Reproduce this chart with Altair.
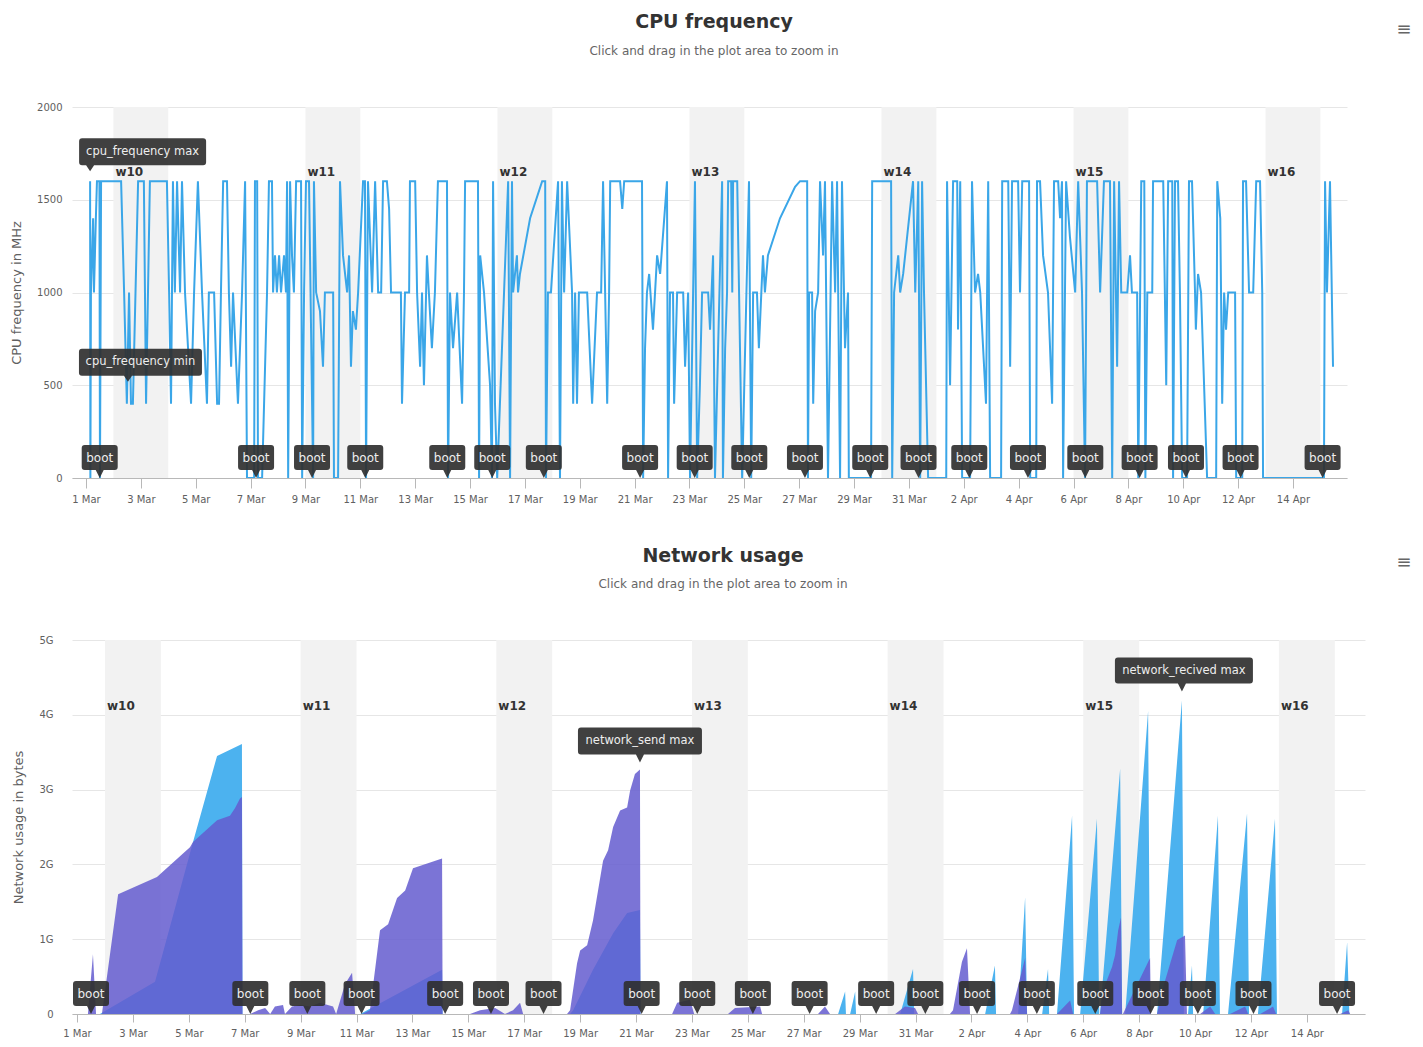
import altair as alt
import pandas as pd
from datetime import datetime, timezone

# ---------------- data ----------------
T0 = datetime(2013, 3, 1, tzinfo=timezone.utc).timestamp() * 1000.0
DAY = 86400000.0

# (days since 1 Mar 00:00, MHz)
cpu_points = [
    (0.15, 1600), (0.16, 0), (0.18, 1000), (0.26, 1400), (0.29, 1000), (0.36, 1400), (0.40, 1600), (0.49, 1600),
    (0.51, 0), (0.55, 1600), (1.28, 1600), (1.39, 1000), (1.49, 400), (1.57, 1000), (1.64, 400), (1.71, 400),
    (1.90, 1600), (2.11, 1600), (2.19, 400), (2.33, 1600), (2.95, 1600), (3.03, 1000), (3.10, 400), (3.17, 1600),
    (3.24, 1000), (3.32, 1600), (3.43, 1000), (3.50, 1600), (3.61, 1000), (3.83, 400), (3.94, 1000), (4.08, 1600),
    (4.23, 1000), (4.41, 400), (4.48, 1000), (4.67, 1000), (4.78, 400), (4.85, 400), (4.92, 1000), (5.00, 1600),
    (5.14, 1600), (5.21, 1000), (5.29, 600), (5.36, 1000), (5.54, 400), (5.69, 1000), (5.80, 1600), (5.87, 0),
    (6.13, 0), (6.16, 1600), (6.24, 1600), (6.27, 0), (6.42, 0), (6.60, 1000), (6.67, 1600), (6.78, 1600),
    (6.82, 1000), (6.89, 1200), (6.96, 1000), (7.04, 1200), (7.11, 1000), (7.22, 1200), (7.29, 1000), (7.33, 1600),
    (7.37, 0), (7.44, 1600), (7.51, 1200), (7.58, 1000), (7.66, 1600), (7.84, 1600), (7.88, 0), (7.95, 1000),
    (8.02, 1600), (8.13, 1600), (8.28, 0), (8.31, 1600), (8.39, 1000), (8.53, 900), (8.64, 600), (8.71, 1000),
    (9.01, 1000), (9.04, 0), (9.19, 0), (9.26, 1600), (9.37, 1200), (9.52, 1000), (9.59, 1200), (9.66, 600),
    (9.73, 900), (9.84, 800), (9.92, 1000), (10.10, 1600), (10.17, 1600), (10.21, 0), (10.28, 1600), (10.43, 1000),
    (10.54, 1600), (10.65, 1000), (10.76, 1000), (10.83, 1600), (10.97, 1600), (11.05, 1450), (11.12, 1000), (11.48, 1000),
    (11.52, 400), (11.63, 1000), (11.78, 1000), (11.81, 1600), (12.00, 1600), (12.07, 1000), (12.18, 600), (12.25, 1000),
    (12.32, 500), (12.43, 1200), (12.50, 1000), (12.61, 700), (12.72, 1000), (12.83, 1600), (13.16, 1600), (13.20, 0),
    (13.27, 1000), (13.38, 700), (13.53, 1000), (13.71, 400), (13.78, 1000), (13.82, 1600), (14.29, 1600), (14.33, 0),
    (14.37, 1200), (14.51, 1000), (14.73, 500), (14.80, 0), (14.84, 1600), (14.91, 400), (14.99, 0), (15.39, 1600),
    (15.46, 0), (15.53, 1600), (15.57, 1000), (15.71, 1200), (15.75, 1000), (15.82, 1100), (16.19, 1400), (16.63, 1600),
    (16.74, 1600), (16.77, 0), (16.84, 1000), (16.95, 1000), (17.21, 1600), (17.28, 0), (17.35, 1600), (17.43, 1000),
    (17.54, 1600), (17.72, 1000), (17.76, 400), (17.83, 1000), (17.90, 400), (17.97, 1000), (18.27, 1000), (18.45, 400),
    (18.63, 1000), (18.78, 1000), (18.85, 1600), (19.00, 400), (19.07, 1000), (19.11, 1600), (19.47, 1600), (19.55, 1450),
    (19.62, 1600), (20.27, 1600), (20.31, 0), (20.38, 700), (20.45, 1000), (20.53, 1100), (20.67, 800), (20.82, 1200),
    (20.93, 1100), (21.18, 1600), (21.22, 0), (21.29, 1000), (21.40, 1000), (21.44, 400), (21.55, 1000), (21.77, 1000),
    (21.84, 600), (21.95, 1000), (22.02, 0), (22.20, 1600), (22.28, 0), (22.38, 500), (22.46, 1000), (22.68, 1000),
    (22.75, 800), (22.86, 1200), (22.93, 0), (23.19, 1600), (23.22, 0), (23.30, 700), (23.37, 1000), (23.41, 1600),
    (23.52, 1600), (23.56, 1000), (23.59, 1600), (23.74, 1600), (23.92, 0), (24.17, 1600), (24.25, 0), (24.32, 1000),
    (24.46, 1000), (24.53, 700), (24.68, 1200), (24.75, 1000), (24.86, 1200), (25.30, 1400), (25.85, 1570), (26.03, 1600),
    (26.29, 1600), (26.32, 0), (26.36, 1000), (26.47, 1000), (26.51, 400), (26.58, 900), (26.69, 1000), (26.76, 1600),
    (26.87, 1200), (26.94, 1600), (27.05, 0), (27.20, 1600), (27.31, 1000), (27.38, 1600), (27.49, 0), (27.56, 1600),
    (27.67, 700), (27.78, 1000), (27.81, 0), (28.62, 0), (28.66, 1600), (29.35, 1600), (29.39, 0), (29.46, 1000),
    (29.61, 1200), (29.68, 1000), (29.79, 1100), (30.15, 1600), (30.23, 1000), (30.34, 1600), (30.41, 0), (30.48, 1600),
    (30.55, 1000), (30.70, 0), (31.36, 0), (31.39, 1600), (31.50, 500), (31.61, 1600), (31.76, 1600), (31.79, 800),
    (31.87, 1600), (31.94, 0), (32.23, 0), (32.30, 1600), (32.41, 1000), (32.52, 1100), (32.60, 1000), (32.81, 400),
    (32.89, 1600), (32.96, 0), (33.36, 0), (33.40, 1600), (33.62, 1600), (33.69, 600), (33.76, 1600), (33.98, 1600),
    (34.05, 1000), (34.13, 1600), (34.38, 1600), (34.42, 0), (34.64, 0), (34.67, 1600), (34.78, 1600), (34.89, 1200),
    (35.07, 1000), (35.22, 400), (35.29, 1600), (35.44, 1600), (35.51, 1400), (35.58, 1600), (35.62, 0), (35.73, 1600),
    (35.87, 1300), (36.06, 1000), (36.17, 1600), (36.31, 1000), (36.42, 0), (36.49, 1600), (36.86, 1600), (36.97, 1000),
    (37.11, 1600), (37.33, 1600), (37.41, 0), (37.48, 1600), (37.59, 600), (37.66, 1600), (37.74, 1000), (37.96, 1000),
    (38.06, 1200), (38.13, 1000), (38.32, 1000), (38.36, 0), (38.47, 1600), (38.58, 1600), (38.62, 0), (38.69, 1000),
    (38.87, 1000), (38.90, 1600), (39.27, 1600), (39.38, 500), (39.45, 1600), (39.60, 1600), (39.63, 0), (39.70, 1600),
    (39.81, 1600), (39.88, 1000), (39.96, 0), (40.14, 0), (40.21, 1600), (40.32, 1600), (40.43, 1000), (40.46, 800),
    (40.54, 1100), (40.65, 1000), (40.87, 0), (41.20, 0), (41.24, 1600), (41.35, 1400), (41.42, 400), (41.49, 1000),
    (41.56, 800), (41.64, 1000), (41.89, 1000), (41.93, 0), (42.15, 0), (42.18, 1600), (42.29, 1600), (42.40, 1000),
    (42.55, 1000), (42.66, 1600), (42.80, 1600), (42.88, 1000), (42.91, 0), (45.13, 0), (45.17, 1600), (45.24, 1000),
    (45.35, 1600), (45.46, 600),
]

# (days since 1 Mar 00:00, gigabytes)
net_send_points = [
    (0.11, 0), (0.39, 0), (0.57, 0.8), (0.68, 0), (0.89, 0), (1.47, 1.6), (2.86, 1.83), (4.04, 2.23), (4.15, 2.3),
    (5.01, 2.59), (5.47, 2.65), (5.65, 2.75), (5.83, 2.88), (5.90, 2.9), (5.92, 0), (6.19, 0), (6.48, 0.05),
    (6.73, 0.08), (6.91, 0), (7.08, 0.1), (7.37, 0.12), (7.44, 0), (7.69, 0.1), (7.98, 0.12), (8.34, 0.1),
    (8.69, 0.15), (9.16, 0.1), (9.27, 0), (9.59, 0.4), (9.84, 0.55), (9.95, 0), (10.20, 0), (10.48, 0.05),
    (10.84, 1.12), (11.13, 1.2), (11.45, 1.55), (11.74, 1.65), (12.02, 1.95), (13.06, 2.08), (13.08, 0), (14.06, 0),
    (14.42, 0.05), (14.96, 0.08), (15.31, 0), (15.60, 0.05), (15.85, 0.15), (15.96, 0), (17.53, 0), (17.64, 0.05),
    (17.89, 0.68), (18.00, 0.85), (18.25, 0.92), (18.46, 1.25), (18.82, 2.05), (19.00, 2.19), (19.18, 2.5),
    (19.43, 2.72), (19.68, 2.76), (19.79, 2.99), (19.96, 3.21), (20.14, 3.27), (20.16, 0), (21.29, 0), (21.47, 0.15),
    (21.93, 0.19), (22.08, 0), (23.29, 0), (23.54, 0.08), (24.44, 0.1), (24.51, 0), (26.51, 0), (26.76, 0.1),
    (26.94, 0), (29.27, 0), (29.62, 0.1), (29.98, 0.08), (30.09, 0), (31.23, 0), (31.34, 0.05), (31.66, 0.7),
    (31.84, 0.88), (31.95, 0), (33.38, 0), (33.45, 0.05), (33.92, 0.75), (33.99, 0), (35.06, 0), (35.53, 0.18),
    (35.64, 0), (36.60, 0), (36.71, 0.32), (37.03, 0.63), (37.14, 0.79), (37.25, 1.12), (37.35, 1.29), (37.39, 0),
    (37.42, 0), (38.39, 0.75), (38.42, 0), (38.64, 0), (38.86, 0.36), (39.36, 0.99), (39.64, 1.05), (39.71, 0),
    (40.18, 0), (40.54, 0.1), (40.72, 0), (41.25, 0), (41.79, 0.1), (41.90, 0), (42.33, 0), (42.79, 0.1),
    (42.90, 0), (45.19, 0), (45.48, 0.05), (45.55, 0),
]

net_recv_points = [
    (0.11, 0), (0.82, 0), (2.79, 0.43), (4.15, 2.3), (5.01, 3.45), (5.90, 3.61), (5.92, 0), (10.13, 0),
    (13.06, 0.59), (13.08, 0), (17.64, 0), (17.75, 0.05), (18.46, 0.59), (19.18, 1.08), (19.68, 1.35),
    (20.14, 1.39), (20.16, 0), (27.23, 0), (27.48, 0.3), (27.51, 0), (27.66, 0), (27.84, 0.3), (27.87, 0),
    (29.45, 0), (29.91, 0.6), (29.95, 0), (32.49, 0), (32.84, 0.65), (32.88, 0), (33.67, 0), (33.92, 1.56),
    (33.99, 0), (34.53, 0), (34.74, 0.6), (34.78, 0), (35.06, 0), (35.60, 2.65), (35.67, 0), (35.89, 0),
    (36.49, 2.61), (36.57, 0), (36.60, 0), (37.32, 3.28), (37.39, 0), (37.50, 0), (38.32, 4.05), (38.39, 0),
    (38.64, 0), (39.53, 4.19), (39.60, 0), (39.75, 0), (39.89, 0.65), (39.93, 0), (40.29, 0), (40.82, 2.65),
    (40.89, 0), (41.18, 0), (41.86, 2.68), (41.93, 0), (42.25, 0), (42.86, 2.61), (42.93, 0), (45.26, 0),
    (45.44, 0.96), (45.52, 0),
]

boot_days = [0.5, 6.2, 8.24, 10.18, 13.17, 14.81, 16.69, 20.2, 22.19, 24.18, 26.21, 28.59, 30.35,
             32.2, 34.34, 36.43, 38.41, 40.1, 42.09, 45.08]
weekend_start_days = [1, 8, 15, 22, 29, 36, 43]
week_labels = ["w10", "w11", "w12", "w13", "w14", "w15", "w16"]
tick_days = list(range(0, 45, 2))
cpu_ticks = [0, 500, 1000, 1500, 2000]
net_ticks = [0, 1, 2, 3, 4, 5]

# ---------------- styling ----------------
FONT = "DejaVu Sans"
LINE = "#3aa6e8"
RECV = "#4cb2ef"
SEND = "#645ccf"
FLAG = "#303030"
GRID = "#e6e6e6"
AXC = "#b8b8b8"
LAB = "#606060"


def ts(d):
    return T0 + d * DAY


def callout_path(left, right, top, bottom, tip, r=3.0, half=4.0, unit=20.0):
    parts = [("M", left + r, top), ("L", right - r, top), ("Q", right, top, right, top + r),
             ("L", right, bottom - r), ("Q", right, bottom, right - r, bottom),
             ("L", half, bottom), ("L", 0, tip), ("L", -half, bottom),
             ("L", left + r, bottom), ("Q", left, bottom, left, bottom - r),
             ("L", left, top + r), ("Q", left, top, left + r, top)]
    out = []
    for p in parts:
        out.append(p[0] + " ".join(f"{v / unit:.4f}" for v in p[1:]))
    return " ".join(out) + " Z"


def x_enc(lo, hi, tick, pad):
    return alt.X("t:T", title=None,
                 scale=alt.Scale(type="utc", domain=[ts(lo), ts(hi)], nice=False),
                 axis=alt.Axis(values=[ts(d) for d in tick_days],
                               labelExpr="utcFormat(datum.value, '%-d %b')",
                               grid=False, tickSize=tick, tickColor=AXC, domainColor=AXC,
                               labelColor=LAB, labelFontSize=10, labelFont=FONT, labelPadding=pad,
                               labelOverlap=False, labelFlush=False))


def pix_text(text, x, y, size, color, weight="normal"):
    return alt.Chart(pd.DataFrame({"k": [0]})).mark_text(
        text=text, font=FONT, fontSize=size, fontWeight=weight, color=color,
        align="center", baseline="middle").encode(x=alt.value(x), y=alt.value(y))


def weekend_layers(X, label_y):
    bands = pd.DataFrame({"t": [ts(d) for d in weekend_start_days],
                          "t2": [ts(d + 2) for d in weekend_start_days],
                          "label": week_labels})
    rect = alt.Chart(bands).mark_rect(color="#f2f2f2").encode(x=X, x2="t2:T")
    txt = alt.Chart(bands).mark_text(align="left", baseline="middle", dx=2, font=FONT, fontSize=12,
                                     fontWeight="bold", color="#333333").encode(
        x=X, y=alt.value(label_y), text="label:N")
    return [rect, txt]


def boot_layers(X, Y):
    df = pd.DataFrame({"t": [ts(d) for d in boot_days], "v": [0] * len(boot_days)})
    box = alt.Chart(df).mark_point(shape=callout_path(-18, 18, -33, -8, 0), size=1600, filled=True,
                                   color=FLAG, opacity=0.92, strokeWidth=0).encode(x=X, y=Y)
    txt = alt.Chart(df).mark_text(text="boot", dy=-20.5, font=FONT, fontSize=12, color="#eeeeee",
                                  baseline="middle").encode(x=X, y=Y)
    return [box, txt]


def note_layers(X, Y, label, day, value, left, right, top, bottom, tip):
    df = pd.DataFrame({"t": [ts(day)], "v": [value]})
    box = alt.Chart(df).mark_point(shape=callout_path(left, right, top, bottom, tip), size=1600,
                                   filled=True, color=FLAG, opacity=0.92, strokeWidth=0).encode(x=X, y=Y)
    txt = alt.Chart(df).mark_text(text=label, dx=(left + right) / 2, dy=(top + bottom) / 2, font=FONT,
                                  fontSize=11.5, color="#eeeeee", baseline="middle",
                                  align="center").encode(x=X, y=Y)
    return [box, txt]


# ---------------- CPU chart ----------------
Xc = x_enc(-0.51, 45.97, 10, 6)
Yc = alt.Y("v:Q", title="CPU frequency in MHz", scale=alt.Scale(domain=[0, 2000], nice=False),
           axis=alt.Axis(values=cpu_ticks, format="d", grid=True, gridColor=GRID, domain=False, ticks=False,
                         labelColor=LAB, labelFontSize=10, labelFont=FONT, labelPadding=10,
                         titleColor=LAB, titleFontSize=13, titleFont=FONT, titleFontWeight="normal",
                         titlePadding=13))

cpu_df = pd.DataFrame({"t": [ts(d) for d, _ in cpu_points], "v": [v for _, v in cpu_points],
                       "i": list(range(len(cpu_points)))})
cpu_line = alt.Chart(cpu_df).mark_line(color=LINE, strokeWidth=2, clip=True).encode(
    x=Xc, y=Yc, order="i:Q")

top_layers = weekend_layers(Xc, 65) + [cpu_line] + boot_layers(Xc, Yc)
top_layers += note_layers(Xc, Yc, "cpu_frequency max", 0.15, 1600, -11, 116, -43, -16, -10)
top_layers += note_layers(Xc, Yc, "cpu_frequency min", 1.53, 400, -49, 74, -55, -28, -22)
top_layers += [pix_text("CPU frequency", 642, -85, 19, "#333333", "bold"),
               pix_text("Click and drag in the plot area to zoom in", 642, -56, 12, "#666666"),
               pix_text("≡", 1332, -77, 18, "#666666")]
top = alt.layer(*top_layers).properties(width=1275, height=371)

# ---------------- Network chart ----------------
Xn = x_enc(-0.18, 46.08, 8, 6)
Yn = alt.Y("v:Q", title="Network usage in bytes", stack=None, scale=alt.Scale(domain=[0, 5], nice=False),
           axis=alt.Axis(values=net_ticks, labelExpr="datum.value == 0 ? '0' : datum.value + 'G'",
                         grid=True, gridColor=GRID, domain=False, ticks=False,
                         labelColor=LAB, labelFontSize=10, labelFont=FONT, labelPadding=19,
                         titleColor=LAB, titleFontSize=13, titleFont=FONT, titleFontWeight="normal",
                         titlePadding=13))

recv_df = pd.DataFrame({"t": [ts(d) for d, _ in net_recv_points], "v": [v for _, v in net_recv_points]})
send_df = pd.DataFrame({"t": [ts(d) for d, _ in net_send_points], "v": [v for _, v in net_send_points]})
recv_area = alt.Chart(recv_df).mark_area(color=RECV, opacity=1, clip=True).encode(x=Xn, y=Yn)
send_area = alt.Chart(send_df).mark_area(color=SEND, opacity=0.85, clip=True).encode(x=Xn, y=Yn)

bot_layers = weekend_layers(Xn, 66) + [recv_area, send_area] + boot_layers(Xn, Yn)
bot_layers += note_layers(Xn, Yn, "network_send max", 20.14, 3.27, -62, 62, -42, -15, -7)
bot_layers += note_layers(Xn, Yn, "network_recived max", 39.53, 4.19, -67, 71, -43, -17, -9)
bot_layers += [pix_text("Network usage", 651, -84, 19, "#333333", "bold"),
               pix_text("Click and drag in the plot area to zoom in", 651, -56, 12, "#666666"),
               pix_text("≡", 1332, -77, 18, "#666666")]
bottom = alt.layer(*bot_layers).properties(width=1293, height=374)

chart = alt.vconcat(top, bottom, spacing=43).properties(
    padding={"left": 2, "top": 5, "right": 0, "bottom": 0}
).configure_view(stroke=None)

chart.save("out.html", embed_options={"renderer": "svg", "actions": False})
